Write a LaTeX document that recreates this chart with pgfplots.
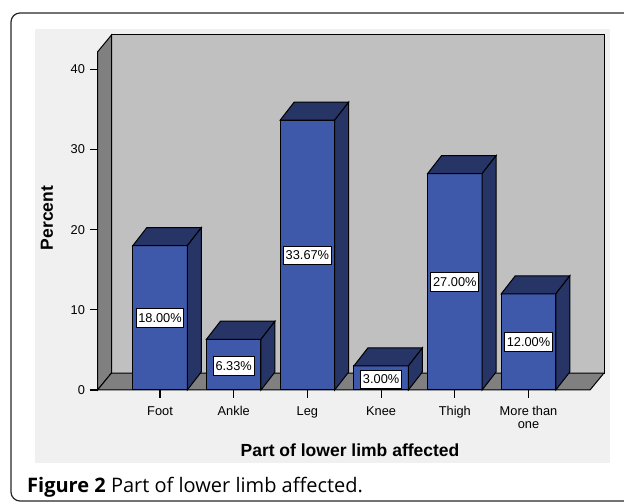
\documentclass[border=0pt]{standalone}
\usepackage{pgfplots}
\pgfplotsset{compat=1.18}
\usepackage{fontspec}
\setmainfont{Liberation Sans}
\newfontfamily\capfont{Open Sans}

\definecolor{panel}{HTML}{F0F0F0}
\definecolor{backwall}{HTML}{C0C0C0}
\definecolor{sidewall}{HTML}{808080}
\definecolor{barfront}{RGB}{62,88,170}
\definecolor{bardark}{RGB}{38,52,102}

\newcommand{\lbl}{\fontsize{12.8bp}{12.5bp}\selectfont}

\begin{document}
\begin{tikzpicture}[x=1bp,y=1bp]
\useasboundingbox (0,0) rectangle (624,504);
% frame and panel (pixel coords, y up)
\draw[line width=1.2bp, black!85, rounded corners=9bp] (11,3) rectangle (650,491);
\fill[panel] (35,41) rectangle (610,475);
\node[anchor=base west, inner sep=0pt, font=\capfont\fontsize{20bp}{22bp}\selectfont]
  at (27,11) {\textbf{Figure 2} Part of lower limb affected.};

\begin{axis}[
    at={(97.5bp,114bp)}, anchor=south west,
    scale only axis, width=506.5bp, height=355bp,
    xmin=-0.848, xmax=6.024,
    ymin=0, ymax=44.3,
    clip=false,
    axis x line*=bottom, axis y line*=left,
    axis line style={draw=none},
    tick align=outside,
    major tick length=8bp,
    tick style={black, line width=1.2bp},
    xtick={0,1,2,3,4,5},
    xticklabels={Foot,Ankle,Leg,Knee,Thigh,{More than\\one}},
    ytick={0,10,20,30,40},
    /pgf/number format/assume math mode=true,
    x tick label style={font=\lbl, align=center, anchor=north, yshift=-5bp},
    y tick label style={font=\lbl, xshift=-1bp},
    xlabel={\textbf{Part of lower limb affected}},
    ylabel={\textbf{Percent}},
    every axis x label/.style={at={(axis description cs:0.4985,-0.186)}, anchor=base, font=\fontsize{17.5bp}{20bp}\selectfont},
    every axis y label/.style={at={(axis description cs:-0.0997,0.4845)}, anchor=center, rotate=90, font=\fontsize{17.5bp}{20bp}\selectfont},
]
% walls and floor
\addplot[fill=backwall, draw=black, line width=1bp] coordinates {(-0.658,2.12) (6.024,2.12) (6.024,44.3) (-0.658,44.3)} -- cycle;
\addplot[fill=sidewall, draw=black, line width=1bp] coordinates {(-0.848,0) (-0.658,2.12) (-0.658,44.3) (-0.848,42.18)} -- cycle;
\addplot[fill=sidewall, draw=black, line width=1bp] coordinates {(-0.848,0) (5.834,0) (6.024,2.12) (-0.658,2.12)} -- cycle;

% bar fronts
\addplot[ybar, bar width=0.74, fill=barfront, draw=black, line width=1bp]
  coordinates {(0,18.00) (1,6.33) (2,33.67) (3,3.00) (4,27.00) (5,12.00)};

% bar tops and sides
\addplot[fill=bardark, draw=black, line width=1bp] coordinates {(-0.37,18) (-0.18,20.25) (0.56,20.25) (0.37,18)} -- cycle;
\addplot[fill=bardark, draw=black, line width=1bp] coordinates {(0.37,0) (0.37,18) (0.56,20.25) (0.56,2.25)} -- cycle;
\addplot[fill=bardark, draw=black, line width=1bp] coordinates {(0.63,6.33) (0.82,8.58) (1.56,8.58) (1.37,6.33)} -- cycle;
\addplot[fill=bardark, draw=black, line width=1bp] coordinates {(1.37,0) (1.37,6.33) (1.56,8.58) (1.56,2.25)} -- cycle;
\addplot[fill=bardark, draw=black, line width=1bp] coordinates {(1.63,33.67) (1.82,35.92) (2.56,35.92) (2.37,33.67)} -- cycle;
\addplot[fill=bardark, draw=black, line width=1bp] coordinates {(2.37,0) (2.37,33.67) (2.56,35.92) (2.56,2.25)} -- cycle;
\addplot[fill=bardark, draw=black, line width=1bp] coordinates {(2.63,3) (2.82,5.25) (3.56,5.25) (3.37,3)} -- cycle;
\addplot[fill=bardark, draw=black, line width=1bp] coordinates {(3.37,0) (3.37,3) (3.56,5.25) (3.56,2.25)} -- cycle;
\addplot[fill=bardark, draw=black, line width=1bp] coordinates {(3.63,27) (3.82,29.25) (4.56,29.25) (4.37,27)} -- cycle;
\addplot[fill=bardark, draw=black, line width=1bp] coordinates {(4.37,0) (4.37,27) (4.56,29.25) (4.56,2.25)} -- cycle;
\addplot[fill=bardark, draw=black, line width=1bp] coordinates {(4.63,12) (4.82,14.25) (5.56,14.25) (5.37,12)} -- cycle;
\addplot[fill=bardark, draw=black, line width=1bp] coordinates {(5.37,0) (5.37,12) (5.56,14.25) (5.56,2.25)} -- cycle;

% value labels
\addplot[draw=none, mark=none, nodes near coords, point meta=explicit symbolic,
  nodes near coords style={anchor=center, fill=white, draw=black, line width=0.9bp,
    font=\fontsize{12.8bp}{14bp}\selectfont, inner xsep=2.2bp, minimum height=18.5bp}]
  coordinates {(0,9)[18.00\%] (1,3.0)[6.33\%] (2,16.8)[33.67\%] (3,1.3)[3.00\%] (4,13.5)[27.00\%] (5,6)[12.00\%]};
\end{axis}
\end{tikzpicture}
\end{document}
